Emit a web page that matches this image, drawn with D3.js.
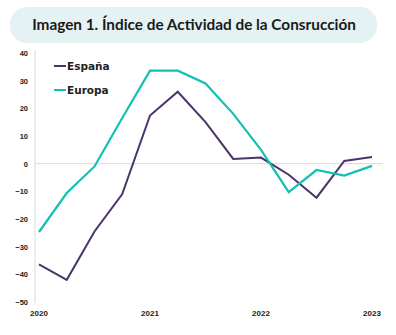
<!DOCTYPE html>
<html><head><meta charset="utf-8">
<script src="https://cdn.jsdelivr.net/npm/d3@7"></script>
<style>body{margin:0;background:#fff}svg{display:block}</style>
</head><body><svg id="c" width="396" height="335"></svg>
<script>
const title = "Imagen 1. Índice de Actividad de la Consrucción";
const quarters = ["2020Q1","2020Q2","2020Q3","2020Q4","2021Q1","2021Q2","2021Q3","2021Q4","2022Q1","2022Q2","2022Q3","2022Q4","2023Q1"];
const espana = [-36.4, -42, -24.5, -11, 17.4, 26, 15, 1.7, 2.2, -4, -12.3, 1, 2.4];
const europa = [-24.7, -10.6, -1, 16.5, 33.6, 33.6, 29, 18, 5, -10.3, -2.3, -4.3, -0.8];
const yTicks = [40, 30, 20, 10, 0, -10, -20, -30, -40, -50];
const xLabels = ["2020", "2021", "2022", "2023"];
const seriesNames = ["España", "Europa"];
const colors = ["#4a3468", "#12c0b4"];

const svg = d3.select("#c");
// title box
svg.append("rect").attr("x",10).attr("y",7).attr("width",367).attr("height",36).attr("rx",17)
  .attr("fill","#e5f2f4");
const t = svg.append("text").attr("x",194).attr("y",30).attr("text-anchor","middle")
  .attr("font-family","Lato, 'DejaVu Sans', sans-serif").attr("font-weight","bold").attr("font-size",15)
  .attr("fill","#1a1a1a").text(title);
// fit to the reference width by adjusting the font size
const w = t.node().getComputedTextLength();
t.attr("font-size", 15 * 324 / w);

const x = d3.scalePoint().domain(quarters).range([39, 372]);
const y = d3.scaleLinear().domain([-50, 40]).range([302, 53]);

// y axis line
svg.append("line").attr("x1",35).attr("x2",35).attr("y1",50).attr("y2",303)
  .attr("stroke","#d9d9d9").attr("stroke-width",1);
// zero line
svg.append("line").attr("x1",35).attr("x2",383).attr("y1",y(0)).attr("y2",y(0))
  .attr("stroke","#d9d9d9").attr("stroke-width",1);

const yAxis = d3.axisLeft(y).tickValues(yTicks).tickSize(0).tickPadding(0);
const ga = svg.append("g").attr("transform","translate(28,0)").call(yAxis);
ga.select(".domain").remove();
ga.selectAll("text").attr("font-family","'Liberation Sans', Arial, sans-serif").attr("font-weight","bold")
  .attr("font-size",7.5).attr("fill","#222").attr("dy","0.32em");

const yearPos = {"2020":"2020Q1","2021":"2021Q1","2022":"2022Q1","2023":"2023Q1"};
svg.append("g").selectAll("text").data(xLabels).join("text")
  .attr("x", d => x(yearPos[d])).attr("y", 316).attr("text-anchor","middle")
  .attr("font-family","'Liberation Sans Narrow', 'Liberation Sans', Arial, sans-serif").attr("font-weight","bold")
  .attr("font-size",8).attr("fill","#222").text(d => d);

const line = d3.line().x((d,i) => x(quarters[i])).y(d => y(d));
[espana, europa].forEach((s, k) => {
  svg.append("path").datum(s).attr("d", line).attr("fill","none")
    .attr("stroke", colors[k]).attr("stroke-width", k === 0 ? 2 : 2.2).attr("stroke-linejoin","miter");
});

// legend
seriesNames.forEach((n, k) => {
  const ly = 66 + k * 24;
  svg.append("line").attr("x1",54).attr("x2",66).attr("y1",ly).attr("y2",ly)
    .attr("stroke",colors[k]).attr("stroke-width",2);
  svg.append("text").attr("x",67).attr("y",ly+4).attr("font-family","'DejaVu Sans', sans-serif")
    .attr("font-weight","bold").attr("font-size",10.5).attr("fill","#222").text(n);
});
</script></body></html>
